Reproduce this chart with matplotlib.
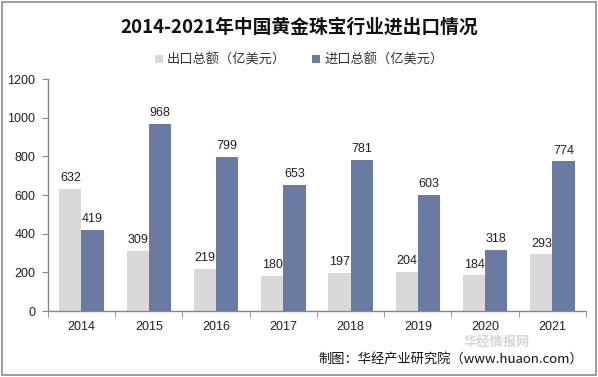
import matplotlib
matplotlib.use("Agg")
import matplotlib.pyplot as plt
import numpy as np
from matplotlib.patches import Rectangle

years = ["2014", "2015", "2016", "2017", "2018", "2019", "2020", "2021"]
exports = [632, 309, 219, 180, 197, 204, 184, 293]
imports = [419, 968, 799, 653, 781, 603, 318, 774]
series_names = ["出口总额（亿美元）", "进口总额（亿美元）"]
colors = ["#D9D9D9", "#6A7BA3"]

plt.rcParams['font.family'] = ['Liberation Sans', 'Noto Sans CJK SC', 'DejaVu Sans']

fig = plt.figure(figsize=(5.98, 3.77), dpi=100)
fig.patches.append(Rectangle((0.003, 0.004), 0.994, 0.992, transform=fig.transFigure,
                             fill=False, edgecolor="#8C8C8C", linewidth=1.2))
ax = fig.add_axes([0.080, 0.175, 0.900, 0.615])

x = np.arange(len(years))
w = 0.33
b1 = ax.bar(x - w/2, exports, w, color=colors[0], label=series_names[0])
b2 = ax.bar(x + w/2, imports, w, color=colors[1], label=series_names[1])
for bars, vals in ((b1, exports), (b2, imports)):
    for r, v in zip(bars, vals):
        ax.text(r.get_x() + r.get_width()/2, v + 25, str(v), ha="center", va="bottom",
                fontsize=9, color="#222222")

ax.set_xlim(-0.5, len(years) - 0.5)
ax.set_ylim(0, 1200)
ax.set_yticks(np.arange(0, 1201, 200))
ax.set_xticks(x)
ax.set_xticklabels(years, fontsize=9, color="#222222")
ax.set_xticks(np.arange(-0.5, len(years), 1), minor=True)
ax.tick_params(axis="x", which="major", length=0, pad=7)
ax.tick_params(axis="x", which="minor", length=4, color="#868686", direction="out")
ax.tick_params(axis="y", length=4, color="#868686", labelsize=9, labelcolor="#222222", pad=5)
for s in ("top", "right"):
    ax.spines[s].set_visible(False)
for s in ("left", "bottom"):
    ax.spines[s].set_color("#868686")
    ax.spines[s].set_linewidth(1.0)

fig.text(0.5, 0.928, "2014-2021年中国黄金珠宝行业进出口情况", ha="center", va="center",
         fontsize=13.5, fontweight="bold", family=['Noto Sans CJK SC'], color="#111111")
leg = fig.legend(handles=[b1, b2], labels=series_names, loc="center", bbox_to_anchor=(0.5, 0.84),
                 ncol=2, frameon=False, handlelength=0.6, handleheight=0.6,
                 handletextpad=0.3, columnspacing=2.0, prop={'family': ['Noto Sans CJK SC'], 'size': 9.5})
for t in leg.get_texts():
    t.set_color("#333333")

fig.text(0.83, 0.092, "华经情报网", ha="center", va="center", fontsize=9.5, fontweight="bold",
         color="#D6D6D6", family=['Noto Sans CJK SC'])
fig.text(0.975, 0.047, "制图：华经产业研究院（www.huaon.com）", ha="right", va="center",
         fontsize=9.5, color="#111111", family=['Noto Sans CJK SC', 'DejaVu Sans'])

fig.savefig("out.png", dpi=100)
